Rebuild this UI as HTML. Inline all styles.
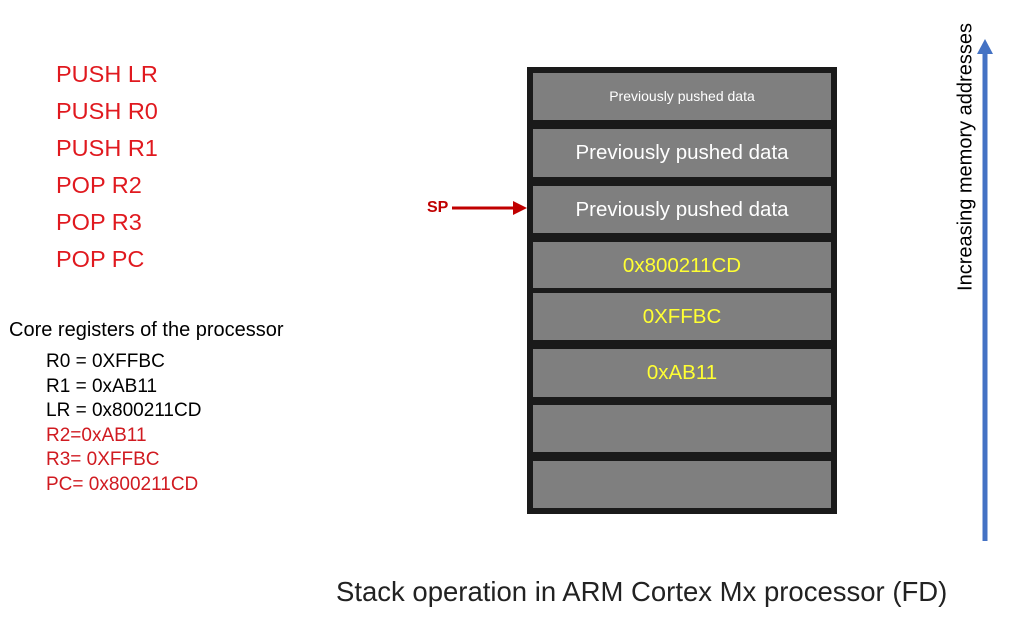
<!DOCTYPE html>
<html><head><style>
body{margin:0;width:1024px;height:627px;background:#fff;position:relative;overflow:hidden;font-family:"Liberation Sans",sans-serif}
.t{position:absolute;white-space:nowrap}
.red{color:#e0191f}
.c{position:absolute;left:533px;width:298px;background:#7f7f7f;color:#fff;text-align:center;font-size:20.5px}
.y{color:#ffff33}
</style></head><body>
<div class="t red" style="left:56px;top:56px;font-size:23.5px;line-height:37px">PUSH LR<br>PUSH R0<br>PUSH R1<br>POP R2<br>POP R3<br>POP PC</div>
<div class="t" style="left:9px;top:319px;font-size:20px">Core registers of the processor</div>
<div class="t" style="left:46px;top:350px;font-size:19px;line-height:24.5px">R0 = 0XFFBC<br>R1 = 0xAB11<br>LR = 0x800211CD<br><span style="color:#d01a20">R2=0xAB11<br>R3= 0XFFBC<br>PC= 0x800211CD</span></div>
<div style="position:absolute;left:527px;top:67px;width:310px;height:447px;background:#1a1a1a"></div>
<div class="c" style="top:73px;height:47px;line-height:47px;font-size:14px">Previously pushed data</div>
<div class="c" style="top:129px;height:48px;line-height:48px">Previously pushed data</div>
<div class="c" style="top:186px;height:47px;line-height:47px">Previously pushed data</div>
<div class="c y" style="top:242px;height:46px;line-height:48px;font-size:20.5px">0x800211CD</div>
<div class="c y" style="top:293px;height:47px;line-height:47px;font-size:20.5px">0XFFBC</div>
<div class="c y" style="top:349px;height:48px;line-height:48px;font-size:20.5px">0xAB11</div>
<div class="c" style="top:405px;height:47px"></div>
<div class="c" style="top:461px;height:47px"></div>
<div class="t" style="left:427px;top:199px;font-size:16px;font-weight:bold;color:#c00000">SP</div>
<svg style="position:absolute;left:0;top:0" width="1024" height="627">
<line x1="452" y1="208" x2="516" y2="208" stroke="#c00000" stroke-width="3"/>
<polygon points="527,208 513,201 513,215" fill="#c00000"/>
<line x1="985" y1="541" x2="985" y2="52" stroke="#4472c4" stroke-width="5"/>
<polygon points="985,39 977,54 993,54" fill="#4472c4"/>
</svg>
<div class="t" style="left:966px;top:157px;transform:translate(-50%,-50%) rotate(-90deg);font-size:20px">Increasing memory addresses</div>
<div class="t" style="left:336px;top:576px;font-size:27.5px;color:#222">Stack operation in ARM Cortex Mx processor (FD)</div>
</body></html>
